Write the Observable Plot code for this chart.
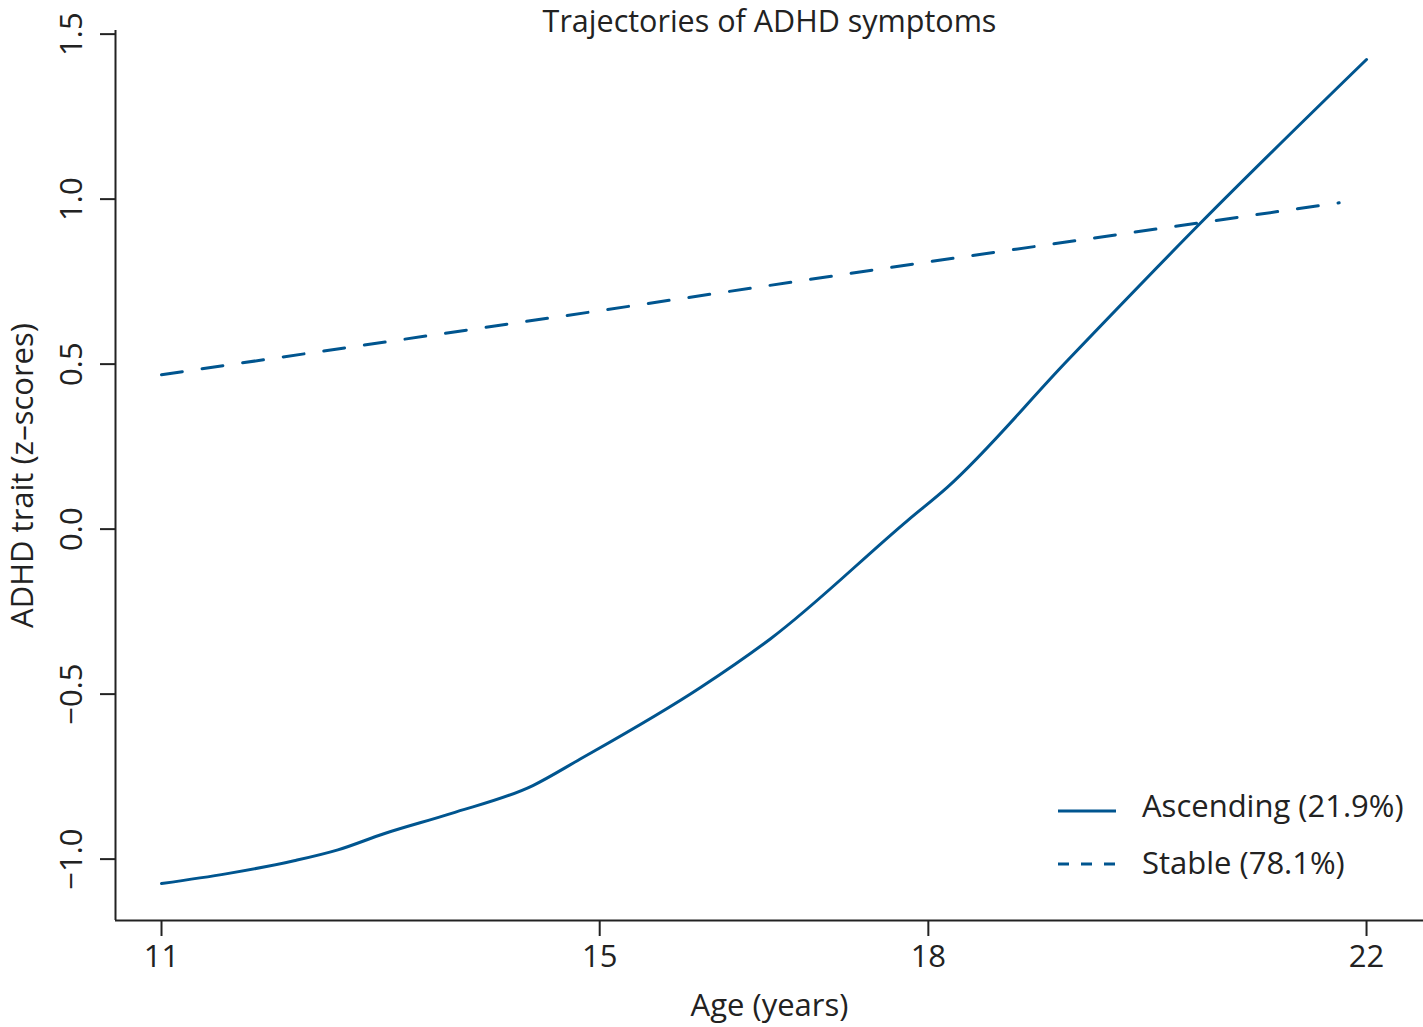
<!DOCTYPE html>
<html>
<head>
<meta charset="utf-8">
<script src="https://cdn.jsdelivr.net/npm/d3@7"></script>
<script src="https://cdn.jsdelivr.net/npm/@observablehq/plot@0.6"></script>
<style>
  html, body { margin: 0; padding: 0; background: #fff; }
  #wrap { position: relative; width: 1423px; height: 1027px; font-family: "Open Sans", sans-serif; color: #222; }
  #wrap svg [aria-label="x-axis tick"] path, #wrap svg [aria-label="y-axis tick"] path { stroke-width: 2; }
  #wrap svg g[aria-label="x-axis"] path, #wrap svg g[aria-label="y-axis"] path { stroke-width: 2; }
  .legend { position: absolute; left: 1058px; font-size: 31px; color: #222; }
  .legend .row { position: absolute; left: 0; height: 40px; white-space: nowrap; }
  .legend svg { position: absolute; left: 0; top: 0; }
  .legend span { position: absolute; left: 84px; top: 0; line-height: 40px; }
</style>
</head>
<body>
<div id="wrap"></div>
<script>
// ---- data ----
const title = "Trajectories of ADHD symptoms";
const xLabel = "Age (years)";
const yLabel = "ADHD trait (z\u2013scores)";
const xTicks = [11, 15, 18, 22];
const yTicks = [-1.0, -0.5, 0.0, 0.5, 1.0, 1.5];
const xDomain = [10.58, 22.52];
const yDomain = [-1.186, 1.511];

const seriesNames = ["Ascending (21.9%)", "Stable (78.1%)"];
const ascendingAges = [11, 11.6, 12.21, 12.61, 13.03, 13.64, 14.39, 14.8, 15.92, 16.56, 17.81, 18.17, 19.27, 20.48, 22];
const ascendingValues = [-1.074, -1.044, -1.005, -0.972, -0.923, -0.862, -0.777, -0.701, -0.48, -0.332, 0.026, 0.126, 0.511, 0.926, 1.423];
const stableAges = [11, 15, 18, 21.75];
const stableValues = [0.468, 0.662, 0.81, 0.989];

const lineColor = "#00558f";
const inkColor = "#222222";
const font = "'Open Sans', sans-serif";

const ascending = ascendingAges.map((a, i) => ({age: a, value: ascendingValues[i]}));
const stable = stableAges.map((a, i) => ({age: a, value: stableValues[i]}));
const fmt = d3.format(".1f");
const minusFmt = d => fmt(d).replace("-", "\u2212");

const chart = Plot.plot({
  width: 1423,
  height: 1027,
  marginTop: 30,
  marginBottom: 107,
  marginLeft: 115,
  marginRight: 0,
  style: {fontFamily: font, fontSize: "31px", color: inkColor, background: "transparent"},
  x: {domain: xDomain, ticks: xTicks, tickSize: 16, tickPadding: 8, label: null, tickFormat: d3.format("d")},
  y: {domain: yDomain, ticks: yTicks, tickSize: 15, tickFormat: () => "", label: null},
  marks: [
    Plot.ruleX([xDomain[0]], {stroke: inkColor, strokeWidth: 2}),
    Plot.ruleY([yDomain[0]], {stroke: inkColor, strokeWidth: 2}),
    Plot.text(yTicks, {y: d => d, text: d => minusFmt(d), frameAnchor: "left", dx: -43, rotate: -90, textAnchor: "middle", lineAnchor: "middle", fill: inkColor, fontSize: 31}),
    Plot.line(stable, {x: "age", y: "value", stroke: lineColor, strokeWidth: 3, strokeDasharray: "21,20"}),
    Plot.line(ascending, {x: "age", y: "value", stroke: lineColor, strokeWidth: 3, curve: "monotone-x"}),
    Plot.text([title], {frameAnchor: "top", dy: -8, lineAnchor: "middle", textAnchor: "middle", fill: inkColor, fontSize: 30.5}),
    Plot.text([xLabel], {frameAnchor: "bottom", dy: 86, lineAnchor: "middle", textAnchor: "middle", fill: inkColor, fontSize: 31}),
    Plot.text([yLabel], {frameAnchor: "left", dx: -92, rotate: -90, lineAnchor: "middle", textAnchor: "middle", fill: inkColor, fontSize: 31})
  ]
});
const wrap = document.getElementById("wrap");
wrap.appendChild(chart);

// legend overlay
const legend = document.createElement("div");
legend.className = "legend";
legend.style.top = "0px";
const rowsTop = [785, 842];
const dashes = [null, "11,12"];
seriesNames.forEach((name, i) => {
  const row = document.createElement("div");
  row.className = "row";
  row.style.top = rowsTop[i] + "px";
  row.innerHTML = `<svg width="60" height="40"><line x1="0" x2="58" y1="${i === 0 ? 26 : 22}" y2="${i === 0 ? 26 : 22}" stroke="${lineColor}" stroke-width="3" ${dashes[i] ? `stroke-dasharray="${dashes[i]}"` : ""}/></svg><span>${name}</span>`;
  legend.appendChild(row);
});
wrap.appendChild(legend);
</script>
</body>
</html>
